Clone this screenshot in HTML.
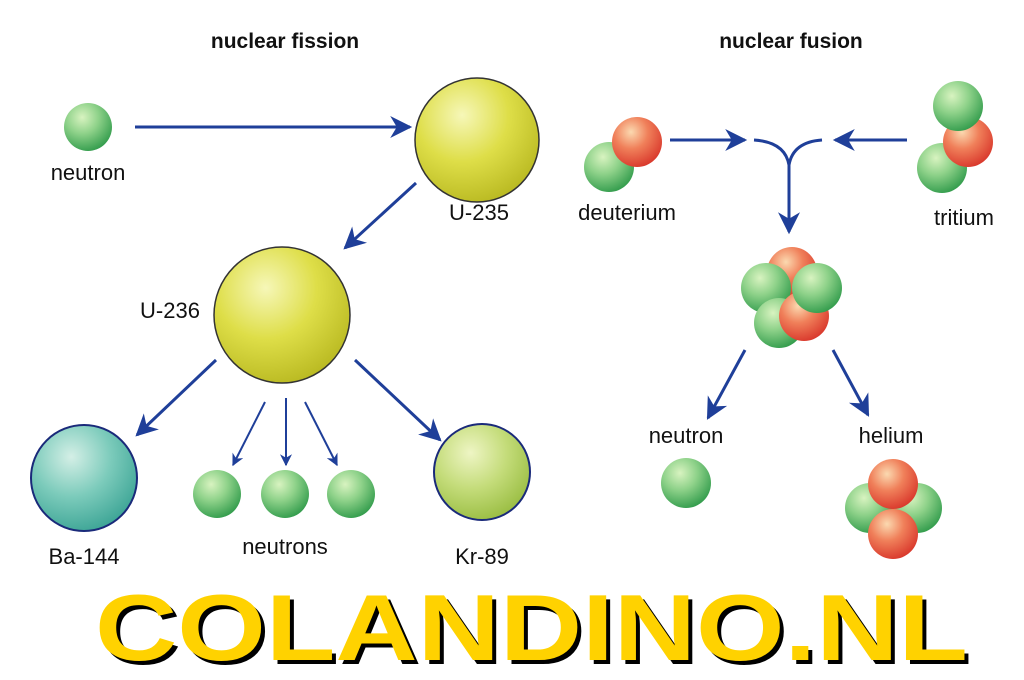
<!DOCTYPE html>
<html><head><meta charset="utf-8"><style>html,body{margin:0;padding:0;background:#fff}svg{display:block}</style></head><body>
<svg width="1024" height="680" viewBox="0 0 1024 680" xmlns="http://www.w3.org/2000/svg" font-family="Liberation Sans, sans-serif">
<defs>
<radialGradient id="g" cx="0.38" cy="0.3" r="0.75"><stop offset="0" stop-color="#d8f3c0"/><stop offset="0.45" stop-color="#8fd28a"/><stop offset="1" stop-color="#2f9a4a"/></radialGradient>
<radialGradient id="r" cx="0.38" cy="0.3" r="0.75"><stop offset="0" stop-color="#fbd9b0"/><stop offset="0.45" stop-color="#f0805a"/><stop offset="1" stop-color="#d8352a"/></radialGradient>
<radialGradient id="y" cx="0.38" cy="0.3" r="0.75"><stop offset="0" stop-color="#f6f7b8"/><stop offset="0.5" stop-color="#dede48"/><stop offset="1" stop-color="#b8b820"/></radialGradient>
<radialGradient id="t" cx="0.38" cy="0.3" r="0.75"><stop offset="0" stop-color="#d4efe6"/><stop offset="0.5" stop-color="#7ccbbb"/><stop offset="1" stop-color="#3aa394"/></radialGradient>
<radialGradient id="k" cx="0.38" cy="0.3" r="0.75"><stop offset="0" stop-color="#eef5c4"/><stop offset="0.5" stop-color="#c4dc7a"/><stop offset="1" stop-color="#98bc40"/></radialGradient>
<marker id="A" viewBox="0 0 10 10" refX="9" refY="5" markerWidth="30" markerHeight="22" orient="auto" markerUnits="userSpaceOnUse"><path d="M0,0 L10,5 L0,10 L3,5 z" fill="#1f3f99"/></marker>
<marker id="s" viewBox="0 0 10 10" refX="9" refY="5" markerWidth="16" markerHeight="12" orient="auto" markerUnits="userSpaceOnUse"><path d="M0,0 L10,5 L0,10 L3,5 z" fill="#1f3f99"/></marker>
</defs>
<g font-size="21" font-weight="bold" text-anchor="middle" fill="#111">
<text x="285" y="48">nuclear fission</text><text x="791" y="48">nuclear fusion</text></g>
<g stroke="#1f3f99" stroke-width="3" fill="none">
<line x1="135" y1="127" x2="410" y2="127" marker-end="url(#A)"/>
<line x1="416" y1="183" x2="345" y2="248" marker-end="url(#A)"/>
<line x1="216" y1="360" x2="137" y2="435" marker-end="url(#A)"/>
<line x1="355" y1="360" x2="440" y2="440" marker-end="url(#A)"/>
<line x1="265" y1="402" x2="233" y2="465" stroke-width="2" marker-end="url(#s)"/>
<line x1="286" y1="398" x2="286" y2="465" stroke-width="2" marker-end="url(#s)"/>
<line x1="305" y1="402" x2="337" y2="465" stroke-width="2" marker-end="url(#s)"/>
<line x1="670" y1="140" x2="745" y2="140" marker-end="url(#A)"/>
<line x1="907" y1="140" x2="835" y2="140" marker-end="url(#A)"/>
<path d="M754,140 Q785,142 789,165 Q793,142 822,140"/>
<line x1="789" y1="160" x2="789" y2="232" marker-end="url(#A)"/>
<line x1="745" y1="350" x2="708" y2="418" marker-end="url(#A)"/>
<line x1="833" y1="350" x2="868" y2="415" marker-end="url(#A)"/>
</g>
<circle cx="88" cy="127" r="24" fill="url(#g)"/>
<circle cx="477" cy="140" r="62" fill="url(#y)" stroke="#333" stroke-width="1.5"/>
<circle cx="282" cy="315" r="68" fill="url(#y)" stroke="#333" stroke-width="1.5"/>
<circle cx="84" cy="478" r="53" fill="url(#t)" stroke="#1a2a7a" stroke-width="2"/>
<circle cx="482" cy="472" r="48" fill="url(#k)" stroke="#1a2a7a" stroke-width="2"/>
<circle cx="217" cy="494" r="24" fill="url(#g)"/><circle cx="285" cy="494" r="24" fill="url(#g)"/><circle cx="351" cy="494" r="24" fill="url(#g)"/>
<circle cx="609" cy="167" r="25" fill="url(#g)"/><circle cx="637" cy="142" r="25" fill="url(#r)"/>
<circle cx="942" cy="168" r="25" fill="url(#g)"/><circle cx="968" cy="142" r="25" fill="url(#r)"/><circle cx="958" cy="106" r="25" fill="url(#g)"/>
<circle cx="792" cy="272" r="25" fill="url(#r)"/><circle cx="766" cy="288" r="25" fill="url(#g)"/><circle cx="779" cy="323" r="25" fill="url(#g)"/><circle cx="804" cy="316" r="25" fill="url(#r)"/><circle cx="817" cy="288" r="25" fill="url(#g)"/>
<circle cx="686" cy="483" r="25" fill="url(#g)"/>
<circle cx="870" cy="508" r="25" fill="url(#g)"/><circle cx="917" cy="508" r="25" fill="url(#g)"/><circle cx="893" cy="484" r="25" fill="url(#r)"/><circle cx="893" cy="534" r="25" fill="url(#r)"/>
<g font-size="22" text-anchor="middle" fill="#111">
<text x="88" y="180">neutron</text><text x="479" y="220">U-235</text><text x="170" y="318">U-236</text>
<text x="84" y="564">Ba-144</text><text x="285" y="554">neutrons</text><text x="482" y="564">Kr-89</text>
<text x="627" y="220">deuterium</text><text x="964" y="225">tritium</text>
<text x="686" y="443">neutron</text><text x="891" y="443">helium</text></g>
<g font-size="94" font-weight="bold">
<text x="99" y="664" fill="#000" textLength="873" lengthAdjust="spacingAndGlyphs">COLANDINO.NL</text>
<text x="95" y="660" fill="#ffd200" textLength="873" lengthAdjust="spacingAndGlyphs">COLANDINO.NL</text></g>
</svg>
</body></html>
